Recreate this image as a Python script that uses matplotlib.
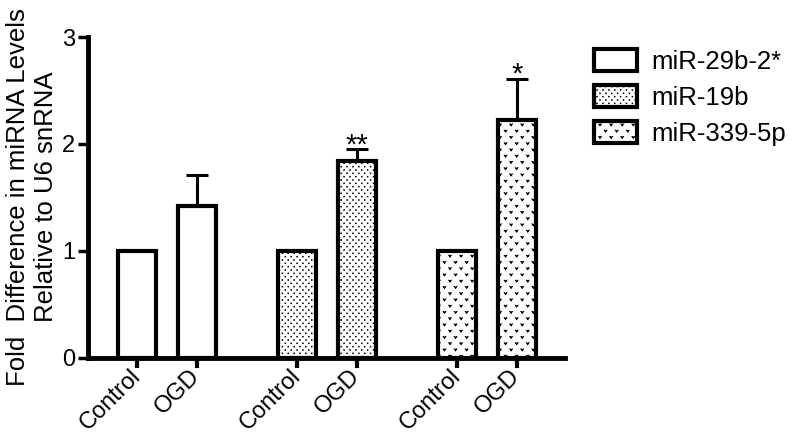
import warnings
import numpy as np
import matplotlib
matplotlib.use('Agg')
import matplotlib.pyplot as plt
import matplotlib.hatch as mhatch
from matplotlib.path import Path

warnings.filterwarnings('ignore')

# data
groups = ['miR-29b-2*', 'miR-19b', 'miR-339-5p']
conditions = ['Control', 'OGD']
control_vals = [1.0, 1.0, 1.0]
ogd_vals = [1.42, 1.84, 2.22]
ogd_err = [0.29, 0.11, 0.39]
stars = ['', '**', '*']
yticks = [0, 1, 2, 3]


# custom hatch patterns: ':' small dots, 'v' little chevrons
class LatticeHatch(mhatch.HatchPatternBase):
    char = None
    ncols = 1
    nrows = 1
    shape = None

    def __init__(self, hatch, density):
        self.centers = []
        if self.char in hatch:
            for r in range(self.nrows + 1):
                if r % 2 == 0:
                    xs = [j / self.ncols for j in range(self.ncols + 1)]
                else:
                    xs = [(j + 0.5) / self.ncols for j in range(self.ncols)]
                for x in xs:
                    self.centers.append((x, r / self.nrows))
        self.num_vertices = len(self.centers) * (len(self.shape) + 1)

    def set_vertices_and_codes(self, vertices, codes):
        n = len(self.shape)
        k = 0
        for cx, cy in self.centers:
            vertices[k:k + n] = self.shape + [cx, cy]
            vertices[k + n] = self.shape[0] + [cx, cy]
            codes[k] = Path.MOVETO
            codes[k + 1:k + n] = Path.LINETO
            codes[k + n] = Path.CLOSEPOLY
            k += n + 1


class DotHatch(LatticeHatch):
    char = ':'
    ncols = 17
    nrows = 30
    shape = np.array([[-1, -1], [1, -1], [1, 1], [-1, 1]]) * 0.004


class VeeHatch(LatticeHatch):
    char = 'v'
    ncols = 9
    nrows = 16
    shape = np.array([[-0.015, 0.011], [-0.007, 0.011], [0.0, 0.0],
                      [0.007, 0.011], [0.015, 0.011], [0.0, -0.011]])


mhatch._hatch_types.extend([DotHatch, VeeHatch])
hatches = ['', ':', 'v']

plt.rcParams['font.family'] = ['Liberation Sans', 'DejaVu Sans']
plt.rcParams['hatch.linewidth'] = 0.5
plt.rcParams['hatch.color'] = 'black'

fig = plt.figure(figsize=(7.96, 4.44), dpi=100)
ax = fig.add_axes([87.5 / 796, 1 - 357.5 / 444, (565 - 87.5) / 796, (357.5 - 37) / 444])

bar_w = 0.63
tick_pos = []
tick_lab = []
for g in range(len(groups)):
    x0 = g * 8 / 3
    x1 = x0 + 1
    ax.bar(x0, control_vals[g], width=bar_w, facecolor='white', edgecolor='black',
           linewidth=3, hatch=hatches[g], label=groups[g], zorder=2)
    ax.bar(x1, ogd_vals[g], width=bar_w, facecolor='white', edgecolor='black',
           linewidth=3, hatch=hatches[g], zorder=2)
    ax.errorbar(x1, ogd_vals[g], yerr=[[0], [ogd_err[g]]], fmt='none', ecolor='black',
                elinewidth=2.2, capsize=7.8, capthick=2.2, zorder=1)
    if stars[g]:
        ax.annotate(stars[g], (x1, ogd_vals[g] + ogd_err[g]), xytext=(0, -3),
                    textcoords='offset points', ha='center', va='baseline', fontsize=21)
    tick_pos += [x0, x1]
    tick_lab += conditions

ax.set_xlim(-0.825, 7.133)
ax.set_ylim(0, 3)
ax.set_yticks(yticks)
ax.set_xticks(tick_pos)
ax.set_xticklabels(tick_lab, rotation=45, ha='right', va='center', rotation_mode='anchor')

for s in ['top', 'right']:
    ax.spines[s].set_visible(False)
for s in ['left', 'bottom']:
    ax.spines[s].set_linewidth(3.5)
    ax.spines[s].set_capstyle('projecting')

ax.tick_params(axis='y', length=7, width=2.5, pad=2, labelsize=17)
ax.tick_params(axis='x', length=7, width=3, pad=4, labelsize=17)

fig.text(32 / 796, 1 - 197 / 444, 'Fold  Difference in miRNA Levels\nRelative to U6 snRNA',
         rotation=90, ha='center', va='center', multialignment='center', fontsize=18.5)

fig.legend(loc='upper left', bbox_to_anchor=(594 / 796, 1 - 49 / 444), frameon=False,
           fontsize=18.5, handlelength=1.67, handleheight=0.97, handletextpad=0.58,
           labelspacing=0.42, borderpad=0, borderaxespad=0)

fig.savefig('out.png', dpi=100)
